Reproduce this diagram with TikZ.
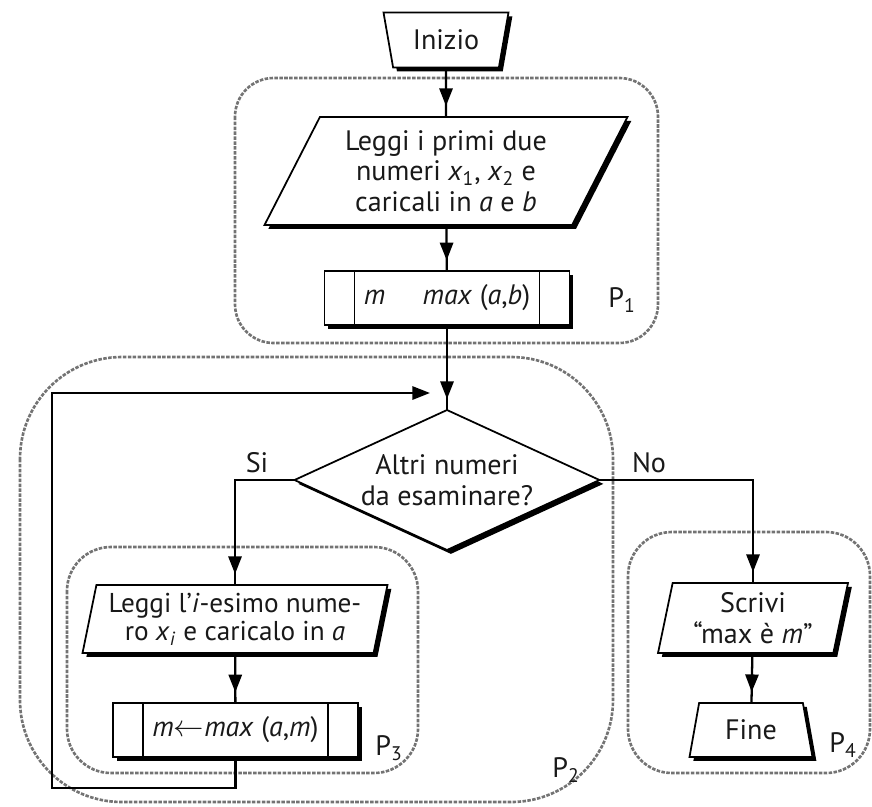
\documentclass[tikz,border=0pt]{standalone}
\usepackage{fontspec}
\setmainfont{PT Sans}
\usetikzlibrary{shapes.geometric,shadows,arrows.meta,decorations.markings,calc}

\begin{document}
\begin{tikzpicture}[
        x=0.02cm, y=-0.02cm,
        every node/.style={font=\fontsize{16}{17.5}\selectfont, align=center, text=black!90},
        block/.style={draw, line width=1pt, fill=white, inner sep=1pt, outer sep=0pt,
          drop shadow={shadow xshift=2.2pt, shadow yshift=-2.2pt, opacity=1, fill=black}},
        iobox/.style={block, trapezium, trapezium stretches body},
        procbox/.style={block, rectangle, minimum width=4.9cm, minimum height=1.07cm},
        decision/.style={block, diamond, aspect=2.2, minimum width=6.1cm, minimum height=2.8cm, inner sep=0pt},
        group/.style={draw=black!55, line width=1.5pt, dash pattern=on 2pt off 0.8pt},
        flow/.style={line width=1.3pt, postaction={decorate},
          decoration={markings, mark=at position -0.22cm with {\arrow{Triangle[length=10pt,width=7.5pt]}}}},
        plabel/.style={font=\fontsize{16}{16}\selectfont}
      ]
      \useasboundingbox (0,0) rectangle (872,806);

      % groups
      \draw[group, rounded corners=22] (235,78) rectangle (658,343);
      \draw[group, rounded corners=58] (20,357) rectangle (613,802);
      \draw[group, rounded corners=25] (67,547) rectangle (418,773);
      \draw[group, rounded corners=25] (628,532) rectangle (870,773);

      % P1
      \node[iobox, trapezium left angle=68, trapezium right angle=68, shape border rotate=180,
        minimum width=2.5cm, minimum height=1.1cm] (start) at (446,40) {Inizio};
      \node[iobox, trapezium left angle=57, trapezium right angle=123,
        minimum width=7.26cm, minimum height=2.16cm] (read1) at (446,171)
        {Leggi i primi due\\numeri \textit{x}\textsubscript{1}, \textit{x}\textsubscript{2} e\\caricali in \textit{a} e \textit{b}};
      \node[procbox] (max1) at (447,298) {\textit{m}\hspace{0.75cm}\textit{max} (\textit{a},\textit{b})};
      \node[plabel] (p1) at (622,300) {P\textsubscript{1}};

      % P2
      \node[decision] (test) at (447,480) {Altri numeri\\da esaminare?};
      \node (si) at (257,463) {Si};
      \node (no) at (649,463) {No};
      \node[plabel] (p2) at (566,770) {P\textsubscript{2}};
      \coordinate (back) at (430,393);

      % P3
      \node[iobox, trapezium left angle=76, trapezium right angle=104,
        minimum width=6.1cm, minimum height=1.36cm, font=\fontsize{15.5}{16}\selectfont] (read2) at (235,619)
        {Leggi l'\textit{i}-esimo nume-\\ro \textit{x}\textsubscript{\textit{i}} e caricalo in \textit{a}};
      \node[procbox] (max2) at (235.5,730) {\textit{m}$\leftarrow$\textit{max} (\textit{a},\textit{m})};
      \node[plabel] (p3) at (389,748) {P\textsubscript{3}};

      % P4
      \node[iobox, trapezium left angle=75, trapezium right angle=105,
        minimum width=3.8cm, minimum height=1.4cm] (out) at (753,618)
        {Scrivi\\“max è \textit{m}”};
      \node[iobox, trapezium left angle=68, trapezium right angle=68,
        minimum width=2.46cm, minimum height=1.08cm] (stop) at (751,730) {Fine};
      \node[plabel] (p4) at (843,745) {P\textsubscript{4}};

      % inner bars of the process boxes
      \foreach \b in {max1, max2} {
        \draw[line width=1pt] ($(\b.north west)+(30,0)$) -- ($(\b.south west)+(30,0)$);
        \draw[line width=1pt] ($(\b.north east)+(-30,0)$) -- ($(\b.south east)+(-30,0)$);
      }

      % connectors
      \draw[flow] (start) -- (read1);
      \draw[flow] (read1) -- (max1);
      \draw[flow] (max1) -- (test);
      \draw[flow] (test.west) -| (read2.north);
      \draw[flow] (test.east) -| (out.north);
      \draw[flow] (read2) -- (max2);
      \draw[flow] (out) -- (stop);
      \draw[line width=1.3pt, -{Triangle[length=10pt,width=7.5pt]}]
        (max2.south) |- (52,788) -- (52,393) -- (back);
    \end{tikzpicture}
\end{document}
